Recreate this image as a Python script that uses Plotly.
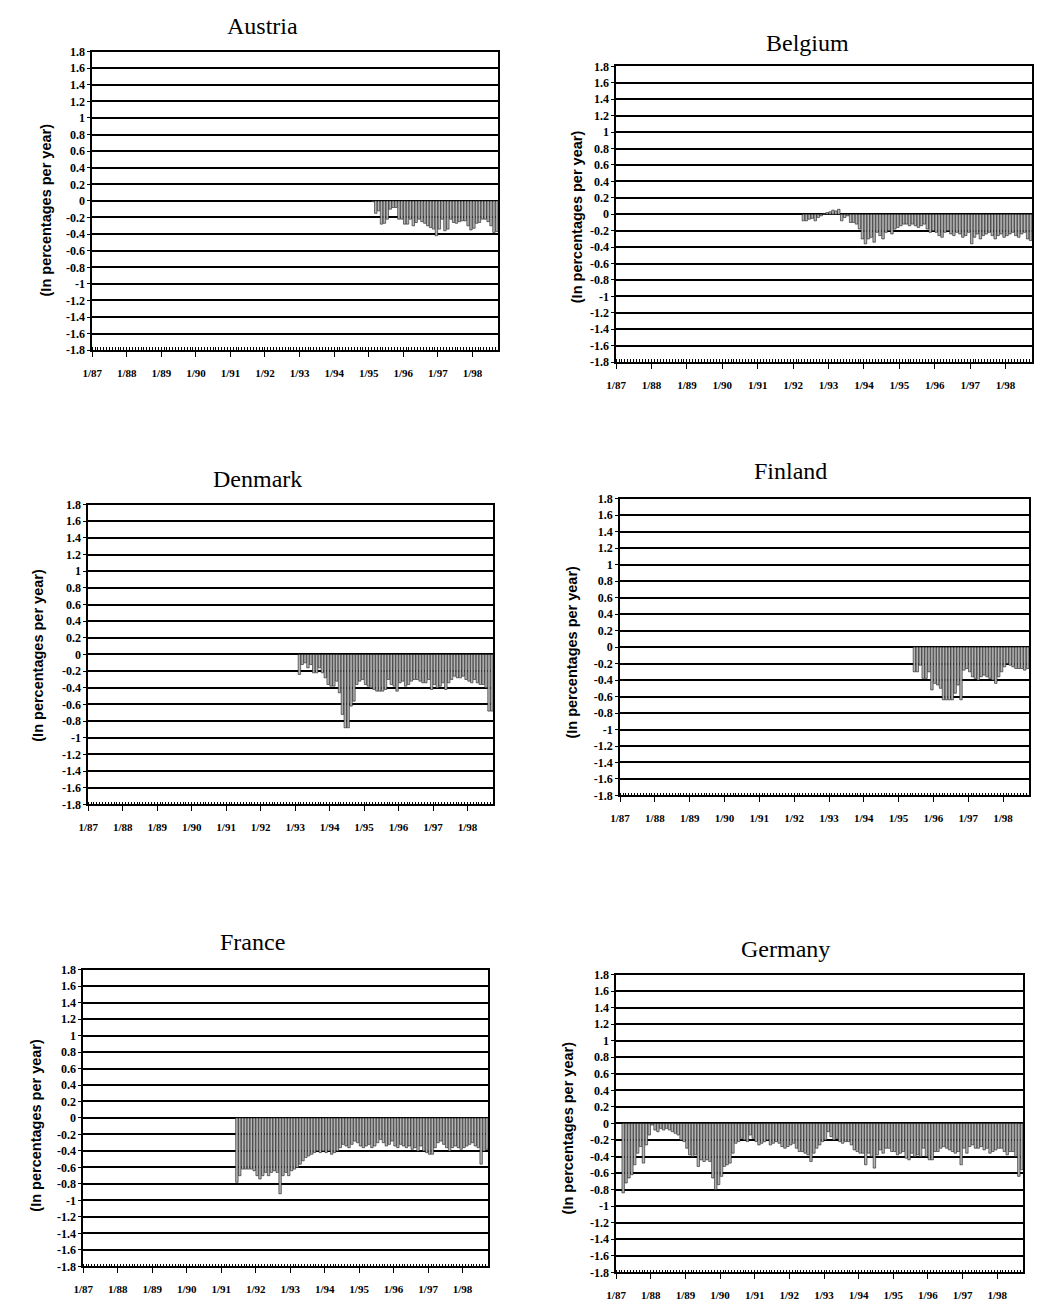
import plotly.graph_objects as go
import pandas as pd

W, H = 1038, 1308

# ---------------- data ----------------
countries = ["Austria", "Belgium", "Denmark", "Finland", "France", "Germany"]
first_month = ["1995-02", "1992-04", "1993-02", "1995-06", "1991-06", "1987-03"]

austria = [-0.01, -0.15, -0.12, -0.28, -0.27, -0.22, -0.10, -0.08, -0.08, -0.22,
           -0.22, -0.28, -0.28, -0.22, -0.30, -0.26, -0.22, -0.25, -0.27, -0.30,
           -0.32, -0.34, -0.42, -0.34, -0.22, -0.36, -0.34, -0.22, -0.26, -0.27,
           -0.25, -0.24, -0.24, -0.30, -0.35, -0.33, -0.27, -0.26, -0.22, -0.22,
           -0.25, -0.30, -0.38, -0.37]

belgium = [-0.08, -0.08, -0.06, -0.05, -0.08, -0.04, -0.02,
           0.01, 0.02, 0.03, 0.05, 0.04, 0.06,
           -0.08, -0.04, -0.02, -0.10, -0.10, -0.12, -0.18, -0.30, -0.36,
           -0.30, -0.28, -0.34, -0.22, -0.26, -0.30, -0.22, -0.20, -0.24, -0.18,
           -0.16, -0.14, -0.12, -0.12, -0.14, -0.12, -0.14, -0.16, -0.14, -0.12,
           -0.18, -0.22, -0.20, -0.22, -0.26, -0.28, -0.22, -0.20, -0.24, -0.26,
           -0.22, -0.24, -0.28, -0.26, -0.22, -0.36, -0.28, -0.24, -0.30, -0.26,
           -0.24, -0.22, -0.26, -0.30, -0.26, -0.24, -0.28, -0.26, -0.24, -0.22,
           -0.26, -0.28, -0.24, -0.22, -0.30, -0.32]

denmark = [-0.24, -0.12, -0.10, -0.16, -0.12, -0.22, -0.22, -0.16, -0.22, -0.28,
           -0.36, -0.38, -0.38, -0.32, -0.46, -0.72, -0.88, -0.88, -0.62, -0.56,
           -0.36, -0.32, -0.30, -0.36, -0.38, -0.40, -0.42, -0.44, -0.44, -0.44,
           -0.42, -0.30, -0.36, -0.38, -0.44, -0.34, -0.32, -0.38, -0.36, -0.32,
           -0.30, -0.30, -0.32, -0.34, -0.34, -0.30, -0.42, -0.36, -0.40, -0.38,
           -0.34, -0.42, -0.34, -0.30, -0.26, -0.28, -0.28, -0.26, -0.30, -0.32,
           -0.34, -0.30, -0.34, -0.36, -0.36, -0.40, -0.68, -0.68]

finland = [-0.30, -0.30, -0.22, -0.38, -0.38, -0.30, -0.52, -0.44, -0.46, -0.50,
           -0.64, -0.64, -0.64, -0.64, -0.56, -0.46, -0.64, -0.28, -0.26, -0.30,
           -0.36, -0.38, -0.40, -0.36, -0.34, -0.36, -0.38, -0.40, -0.44, -0.36,
           -0.30, -0.24, -0.20, -0.22, -0.24, -0.26, -0.26, -0.26, -0.28, -0.26]

france = [-0.78, -0.70, -0.62, -0.62, -0.62, -0.62, -0.64, -0.70, -0.74, -0.70,
          -0.66, -0.70, -0.66, -0.64, -0.66, -0.92, -0.70, -0.66, -0.70, -0.64,
          -0.62, -0.60, -0.56, -0.52, -0.48, -0.46, -0.44, -0.42, -0.40, -0.42,
          -0.40, -0.42, -0.40, -0.44, -0.42, -0.40, -0.36, -0.32, -0.34, -0.36,
          -0.32, -0.28, -0.30, -0.34, -0.36, -0.34, -0.32, -0.36, -0.34, -0.30,
          -0.26, -0.30, -0.34, -0.32, -0.28, -0.34, -0.36, -0.32, -0.34, -0.36,
          -0.34, -0.38, -0.36, -0.40, -0.34, -0.40, -0.42, -0.44, -0.44, -0.36,
          -0.30, -0.28, -0.32, -0.36, -0.40, -0.36, -0.34, -0.36, -0.38, -0.36,
          -0.34, -0.32, -0.30, -0.34, -0.36, -0.56, -0.40, -0.38]

germany = [-0.84, -0.72, -0.66, -0.62, -0.50, -0.36, -0.28, -0.48, -0.26, -0.14,
           -0.02, -0.08, -0.10, -0.06, -0.08, -0.06, -0.08, -0.10, -0.12, -0.14,
           -0.20, -0.22, -0.30, -0.38, -0.40, -0.38, -0.52, -0.44, -0.46, -0.44,
           -0.46, -0.66, -0.80, -0.74, -0.64, -0.52, -0.50, -0.48, -0.36, -0.24,
           -0.22, -0.18, -0.20, -0.22, -0.14, -0.18, -0.22, -0.26, -0.24, -0.22,
           -0.20, -0.26, -0.24, -0.22, -0.24, -0.28, -0.30, -0.28, -0.26, -0.24,
           -0.30, -0.34, -0.34, -0.36, -0.38, -0.46, -0.36, -0.30, -0.26, -0.22,
           -0.20, -0.10, -0.16, -0.20, -0.18, -0.22, -0.24, -0.22, -0.22, -0.26,
           -0.32, -0.34, -0.36, -0.36, -0.50, -0.36, -0.40, -0.54, -0.38, -0.32,
           -0.36, -0.30, -0.30, -0.34, -0.34, -0.38, -0.36, -0.34, -0.42, -0.44,
           -0.36, -0.40, -0.38, -0.40, -0.30, -0.40, -0.44, -0.44, -0.34, -0.34,
           -0.30, -0.28, -0.30, -0.32, -0.34, -0.36, -0.34, -0.50, -0.30, -0.36,
           -0.28, -0.26, -0.30, -0.30, -0.28, -0.32, -0.30, -0.36, -0.34, -0.32,
           -0.30, -0.30, -0.34, -0.38, -0.34, -0.34, -0.40, -0.64, -0.56]

series = [austria, belgium, denmark, finland, france, germany]

y_tick_values = [1.8, 1.6, 1.4, 1.2, 1.0, 0.8, 0.6, 0.4, 0.2, 0.0,
                 -0.2, -0.4, -0.6, -0.8, -1.0, -1.2, -1.4, -1.6, -1.8]
y_tick_labels = ["1.8", "1.6", "1.4", "1.2", "1", "0.8", "0.6", "0.4", "0.2", "0",
                 "-0.2", "-0.4", "-0.6", "-0.8", "-1", "-1.2", "-1.4", "-1.6", "-1.8"]
x_tick_dates = ["1987-01-01", "1988-01-01", "1989-01-01", "1990-01-01", "1991-01-01",
                "1992-01-01", "1993-01-01", "1994-01-01", "1995-01-01", "1996-01-01",
                "1997-01-01", "1998-01-01"]
x_tick_labels = ["1/87", "1/88", "1/89", "1/90", "1/91", "1/92", "1/93", "1/94",
                 "1/95", "1/96", "1/97", "1/98"]
y_title = "(In percentages per year)"

# ---------------- layout geometry (pixels) ----------------
# plot area: x0, x1, y0(top), y1(bottom); title centre; y-title centre
panels = [
    dict(x0=83, x1=493, y0=45, y1=347, tx=255, ty=19, ax=36, ay=205),
    dict(x0=612, x1=1032, y0=60, y1=359, tx=805, ty=36, ax=572, ay=212),
    dict(x0=79, x1=488, y0=503, y1=806, tx=250, ty=477, ax=28, ay=655),
    dict(x0=616, x1=1029, y0=497, y1=797, tx=788, ty=469, ax=567, ay=652),
    dict(x0=74, x1=483, y0=973, y1=1273, tx=245, ty=945, ax=26, ay=1130),
    dict(x0=612, x1=1023, y0=978, y1=1279, tx=783, ty=952, ax=563, ay=1133),
]

fig = go.Figure()
annotations = []
serif = "Liberation Serif"

for i, (name, start, vals, p) in enumerate(zip(countries, first_month, series, panels)):
    n = i + 1
    xa = "x" if n == 1 else f"x{n}"
    ya = "y" if n == 1 else f"y{n}"
    dates = pd.date_range(start=start + "-01", periods=len(vals), freq="MS")
    fig.add_trace(go.Bar(
        x=dates, y=vals, xaxis=xa, yaxis=ya,
        xperiod="M1", xperiodalignment="middle",
        marker=dict(color="#b4b4b4", line=dict(color="#1a1a1a", width=0.6)),
        showlegend=False, hoverinfo="x+y",
    ))
    xkey = "xaxis" if n == 1 else f"xaxis{n}"
    ykey = "yaxis" if n == 1 else f"yaxis{n}"
    fig.layout[xkey] = dict(
        domain=[p["x0"] / W, p["x1"] / W],
        anchor=ya, type="date",
        range=["1987-01-01", "1998-10-01"],
        tickmode="array", tickvals=x_tick_dates, ticktext=x_tick_labels,
        ticks="outside", ticklen=5, tickwidth=1.3, tickcolor="black",
        ticklabelstandoff=7,
        minor=dict(tickmode="linear", tick0="1987-01-01", dtick="M1",
                   ticks="inside", ticklen=3, tickcolor="black", tickwidth=0.9,
                   showgrid=False),
        showline=True, linecolor="black", linewidth=1.6, mirror=True,
        showgrid=False, zeroline=False, fixedrange=True,
        tickfont=dict(family=serif, size=11, color="black", weight="bold"),
    )
    fig.layout[ykey] = dict(
        domain=[1 - p["y1"] / H, 1 - p["y0"] / H],
        anchor=xa, range=[-1.8, 1.8],
        tickmode="array", tickvals=y_tick_values, ticktext=y_tick_labels,
        ticks="outside", ticklen=3, tickcolor="black",
        showgrid=True, gridcolor="black", gridwidth=1.6,
        zeroline=True, zerolinecolor="black", zerolinewidth=1.6,
        showline=True, linecolor="black", linewidth=1.6, mirror=True,
        fixedrange=True,
        tickfont=dict(family=serif, size=12, color="black", weight="bold"),
    )
    annotations.append(dict(
        text=name, x=p["tx"] / W, y=1 - p["ty"] / H, xref="paper", yref="paper",
        xanchor="center", yanchor="middle", showarrow=False,
        font=dict(family=serif, size=24, color="black"),
    ))
    annotations.append(dict(
        text=y_title, x=p["ax"] / W, y=1 - p["ay"] / H, xref="paper", yref="paper",
        xanchor="center", yanchor="middle", showarrow=False, textangle=-90,
        font=dict(family="Liberation Sans", size=14.5, color="black", weight="bold"),
    ))

fig.update_layout(
    width=W, height=H,
    margin=dict(l=0, r=0, t=0, b=0),
    paper_bgcolor="white", plot_bgcolor="white",
    bargap=0.12,
    annotations=annotations,
    showlegend=False,
)

fig.write_html(
    "out.html",
    config={"displayModeBar": False},
    post_script="document.body.style.margin='0';document.body.style.overflow='hidden';",
)
